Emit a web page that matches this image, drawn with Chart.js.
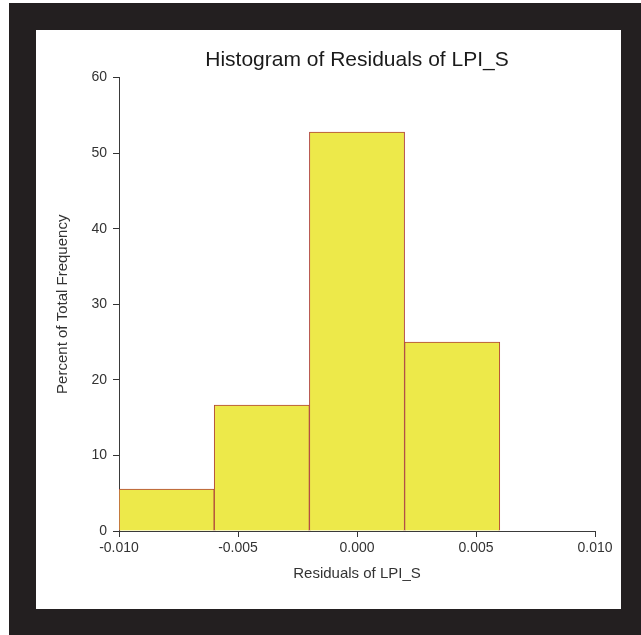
<!DOCTYPE html>
<html>
<head>
<meta charset="utf-8">
<script src="https://cdn.jsdelivr.net/npm/chart.js@4"></script>
<style>
  html, body { margin: 0; padding: 0; background: #ffffff; }
  #frame { position: absolute; left: 9px; top: 3px; width: 632px; height: 632px; background: #231f20; }
  #panel { position: absolute; left: 36px; top: 30px; width: 585px; height: 579px; background: #ffffff; }
  #wrap { position: absolute; left: 0; top: 0; width: 585px; height: 579px; }
</style>
</head>
<body>
<div id="frame"></div>
<div id="panel"><div id="wrap"><canvas id="c"></canvas></div></div>
<script>
// Histogram bins (centres) and percent of total frequency
const binCenters = [-0.008, -0.004, 0.000, 0.004];
const percents = [5.56, 16.67, 52.78, 25.00];
const xTicks = [-0.010, -0.005, 0.000, 0.005, 0.010];
const yTicks = [0, 10, 20, 30, 40, 50, 60];
const chartTitle = 'Histogram of Residuals of LPI_S';

const FONT = '"Liberation Sans", Arial, sans-serif';
const points = binCenters.map((x, i) => ({ x: x, y: percents[i] }));

// Title centred over the plot area (as in the reference)
const plotTitle = {
  id: 'plotTitle',
  afterDraw(chart) {
    const { ctx, chartArea } = chart;
    ctx.save();
    ctx.fillStyle = '#1a1a1a';
    ctx.font = '21px ' + FONT;
    ctx.textAlign = 'center';
    ctx.textBaseline = 'middle';
    ctx.fillText(chartTitle, (chartArea.left + chartArea.right) / 2, 30);
    ctx.restore();
  }
};

new Chart(document.getElementById('c'), {
  type: 'bar',
  data: {
    datasets: [{
      data: points,
      backgroundColor: '#ede94a',
      borderColor: '#b0443a',
      borderWidth: 1,
      barPercentage: 1,
      categoryPercentage: 1
    }]
  },
  options: {
    responsive: true,
    maintainAspectRatio: false,
    animation: false,
    layout: { padding: { left: 0, right: 26, top: 47.5, bottom: 0 } },
    plugins: {
      legend: { display: false },
      tooltip: { enabled: false },
      title: { display: false }
    },
    scales: {
      x: {
        type: 'linear',
        offset: false,
        min: xTicks[0],
        max: xTicks[xTicks.length - 1],
        afterBuildTicks: (s) => { s.ticks = xTicks.map(v => ({ value: v })); },
        afterFit: (s) => { s.height = 78; },
        ticks: {
          color: '#333333',
          font: { family: FONT, size: 14 },
          padding: 3,
          maxRotation: 0,
          callback: (v) => (Math.abs(v) < 1e-12 ? 0 : v).toFixed(3)
        },
        grid: { display: true, offset: false, drawOnChartArea: false, drawTicks: true, tickLength: 6, tickColor: '#333333', tickWidth: 1, color: '#333333' },
        border: { display: true, color: '#3a3a3a', width: 1 },
        title: {
          display: true,
          text: 'Residuals of LPI_S',
          color: '#333333',
          font: { family: FONT, size: 15 },
          padding: { top: 0, bottom: 26 }
        }
      },
      y: {
        min: yTicks[0],
        max: yTicks[yTicks.length - 1],
        afterBuildTicks: (s) => { s.ticks = yTicks.map(v => ({ value: v })); },
        afterFit: (s) => { s.width = 83; },
        ticks: {
          color: '#333333',
          font: { family: FONT, size: 14 },
          padding: 6
        },
        grid: { display: true, offset: false, drawOnChartArea: false, drawTicks: true, tickLength: 6, tickColor: '#333333', tickWidth: 1, color: '#333333' },
        border: { display: true, color: '#3a3a3a', width: 1 },
        title: {
          display: true,
          text: 'Percent of Total Frequency',
          color: '#333333',
          font: { family: FONT, size: 15 },
          padding: { top: 18, bottom: 0 }
        }
      }
    }
  },
  plugins: [plotTitle]
});
</script>
</body>
</html>
